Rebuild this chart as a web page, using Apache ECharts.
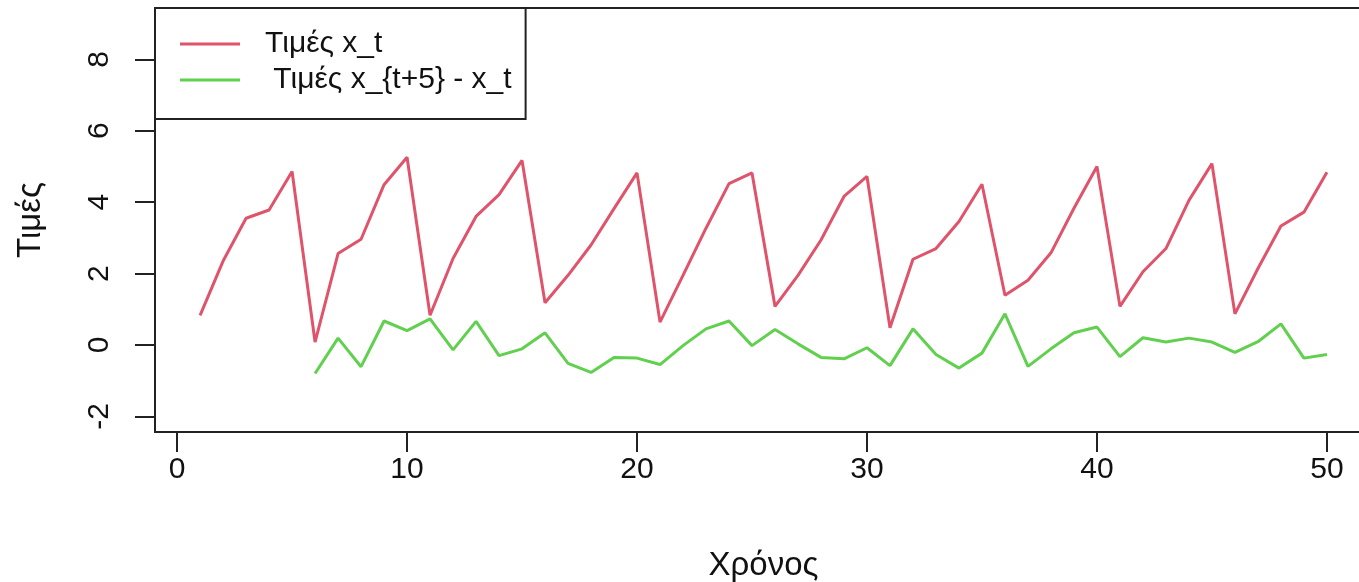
<!DOCTYPE html>
<html>
<head>
<meta charset="utf-8">
<script src="https://cdn.jsdelivr.net/npm/echarts@6/dist/echarts.min.js"></script>
<style>
  html, body { margin: 0; padding: 0; background: #fff; }
  #chart { width: 1359px; height: 582px; }
</style>
</head>
<body>
<div id="chart"></div>
<script>
// Time index
const timeSteps = [1,2,3,4,5,6,7,8,9,10,11,12,13,14,15,16,17,18,19,20,
  21,22,23,24,25,26,27,28,29,30,31,32,33,34,35,36,37,38,39,40,
  41,42,43,44,45,46,47,48,49,50];

// Series x_t
const xtValues = [0.83,2.35,3.55,3.78,4.86,0.08,2.56,2.96,4.49,5.26,
  0.83,2.42,3.60,4.21,5.17,1.18,1.95,2.80,3.82,4.82,
  0.64,1.95,3.27,4.52,4.82,1.08,1.95,2.94,4.16,4.72,
  0.48,2.40,2.70,3.46,4.50,1.39,1.81,2.58,3.83,5.00,
  1.08,2.05,2.70,4.05,5.08,0.87,2.14,3.33,3.72,4.84];

// Lag-5 differences, starting at t = 6
const diffStart = 6;
const diffValues = [-0.80,0.19,-0.61,0.67,0.40,0.73,-0.14,0.66,-0.30,-0.11,
  0.34,-0.52,-0.77,-0.35,-0.37,-0.55,-0.02,0.45,0.67,-0.02,
  0.43,0.03,-0.35,-0.39,-0.08,-0.58,0.45,-0.27,-0.65,-0.23,
  0.87,-0.60,-0.11,0.34,0.50,-0.33,0.20,0.08,0.19,0.08,
  -0.21,0.09,0.59,-0.37,-0.27];

// Axis ticks
const xTicks = [0, 10, 20, 30, 40, 50];
const yTicks = [-2, 0, 2, 4, 6, 8];

const seriesNames = ['Τιμές x_t', ' Τιμές x_{t+5} - x_t'];
const axisTitles = { x: 'Χρόνος', y: 'Τιμές' };

const font = "'Liberation Sans', Arial, Helvetica, sans-serif";
const ink = '#111';
const labelSize = 30;
const titleSize = 33;

const xtData = timeSteps.map((t, i) => [t, xtValues[i]]);
const diffData = diffValues.map((v, i) => [diffStart + i, v]);

const chart = echarts.init(document.getElementById('chart'), null, { renderer: 'canvas' });

chart.setOption({
  backgroundColor: '#fff',
  animation: false,
  textStyle: { fontFamily: font, color: ink },
  grid: {
    left: 155, top: 8, right: -13, bottom: 150,
    containLabel: false,
    outerBoundsMode: 'none',
    show: true, borderColor: '#222', borderWidth: 2,
    backgroundColor: 'transparent'
  },
  legend: {
    left: 155, top: 8,
    orient: 'vertical',
    backgroundColor: '#fff',
    borderColor: '#222', borderWidth: 2,
    padding: [18, 14, 21, 25],
    itemGap: 0,
    itemWidth: 60, itemHeight: 3,
    icon: 'rect',
    textStyle: {
      fontFamily: font, fontSize: labelSize, color: ink,
      lineHeight: 36, padding: [0, 0, 0, 20]
    },
    data: seriesNames
  },
  xAxis: {
    type: 'value',
    min: -0.96, max: 51.96,
    name: axisTitles.x,
    nameLocation: 'middle',
    nameGap: 117,
    nameTextStyle: { fontFamily: font, fontSize: titleSize, color: ink },
    axisLine: { show: false, onZero: false },
    splitLine: { show: false },
    axisTick: {
      show: true, length: 20, inside: false,
      customValues: xTicks,
      lineStyle: { color: '#222', width: 2 }
    },
    axisLabel: {
      customValues: xTicks,
      margin: 23,
      fontFamily: font, fontSize: labelSize, color: ink
    }
  },
  yAxis: {
    type: 'value',
    min: -2.44, max: 9.44,
    name: axisTitles.y,
    nameLocation: 'middle',
    nameGap: 108,
    nameRotate: 90,
    nameTextStyle: { fontFamily: font, fontSize: titleSize, color: ink },
    axisLine: { show: false, onZero: false },
    splitLine: { show: false },
    axisTick: {
      show: true, length: 20, inside: false,
      customValues: yTicks,
      lineStyle: { color: '#222', width: 2 }
    },
    axisLabel: {
      customValues: yTicks,
      rotate: 90,
      margin: 40,
      fontFamily: font, fontSize: labelSize, color: ink
    }
  },
  series: [
    {
      name: seriesNames[0],
      type: 'line',
      data: xtData,
      showSymbol: false,
      symbol: 'none',
      lineStyle: { color: '#DF536B', width: 3 },
      itemStyle: { color: '#DF536B' }
    },
    {
      name: seriesNames[1],
      type: 'line',
      data: diffData,
      showSymbol: false,
      symbol: 'none',
      lineStyle: { color: '#61D04F', width: 3 },
      itemStyle: { color: '#61D04F' }
    }
  ]
});
</script>
</body>
</html>
